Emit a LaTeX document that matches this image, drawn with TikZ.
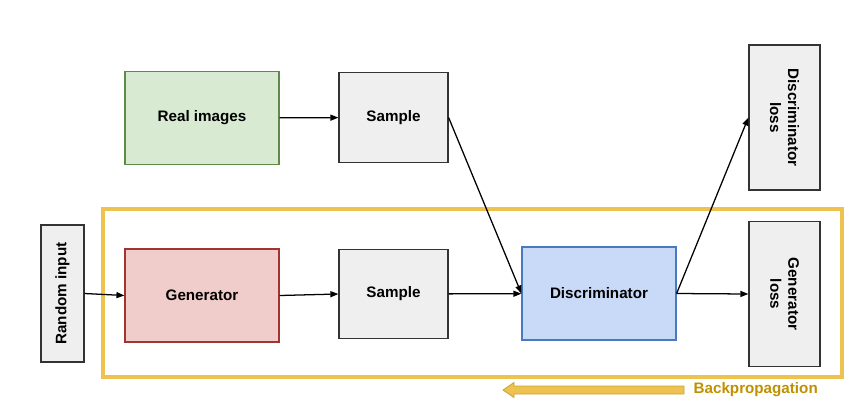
\documentclass[tikz,border=0pt]{standalone}
\usepackage{xcolor}
\usepackage{fontspec}
\setmainfont{Liberation Sans}
\usepackage{tikz}
\usetikzlibrary{arrows.meta, positioning}

\begin{document}
\begin{tikzpicture}[x=0.75pt, y=-0.75pt, >={Triangle[length=6pt,width=4.5pt]}, line width=0.95pt,
    every node/.style={align=center, font=\fontsize{11.4}{13.5}\selectfont\bfseries},
    box/.style={draw=black!80, line width=0.9pt, fill=boxbg, inner sep=0pt},
    wide/.style={box, minimum width=115.5pt, minimum height=69.75pt},
    mid/.style={box, minimum width=81.75pt, minimum height=67pt},
    loss/.style={box, rotate=-90, minimum width=108.75pt, minimum height=53.25pt}]
      \definecolor{boxbg}{HTML}{EFEFEF}
      \definecolor{realbg}{HTML}{D9EAD3} \definecolor{realborder}{HTML}{5E8C48}
      \definecolor{genbg}{HTML}{F0CCCB} \definecolor{genborder}{HTML}{9E3530}
      \definecolor{discbg}{HTML}{C9DAF8} \definecolor{discborder}{HTML}{4A79C0}
      \definecolor{frame}{HTML}{EDC24E} \definecolor{backtext}{HTML}{BF9000}
      \definecolor{backborder}{HTML}{C9A33A}
      \useasboundingbox (0,0) rectangle (859,419);
      % frame round the trained part
      \draw[frame, line width=3pt] (103,209) rectangle (842,377);
      % boxes
      \node[wide, fill=realbg, draw=realborder] (real) at (202,118) {Real images};
      \node[mid] (sampleA) at (393.5,117.5) {Sample};
      \node[loss] (dloss) at (784.5,117.5) {Discriminator\\loss};
      \node[box, rotate=90, minimum width=102.75pt, minimum height=32.25pt] (rin) at (62.5,293.5) {Random input};
      \node[wide, fill=genbg, draw=genborder] (gen) at (202,295.5) {Generator};
      \node[mid] (sampleB) at (393.5,294) {Sample};
      \node[wide, fill=discbg, draw=discborder] (disc) at (599,293.5) {Discriminator};
      \node[loss] (gloss) at (784.5,294) {Generator\\loss};
      % connectors
      \draw[->] (real) -- (sampleA);
      \draw[->] (sampleA.east) -- (disc.west);
      \draw[->] (rin.south) -- (gen.west);
      \draw[->] (gen.east) -- (sampleB.west);
      \draw[->] (sampleB) -- (disc);
      \draw[->] (disc.east) -- (dloss.south);
      \draw[->] (disc.east) -- (gloss.south);
      % backpropagation arrow
      \draw[fill=frame, draw=backborder, line width=0.6pt] (503,390) -- (514,382.5) -- (514,386) -- (684,386)
        -- (684,394) -- (514,394) -- (514,397.5) -- cycle;
      \node[anchor=west, text=backtext, inner sep=0pt] (back) at (693,390) {Backpropagation};
    \end{tikzpicture}
\end{document}
